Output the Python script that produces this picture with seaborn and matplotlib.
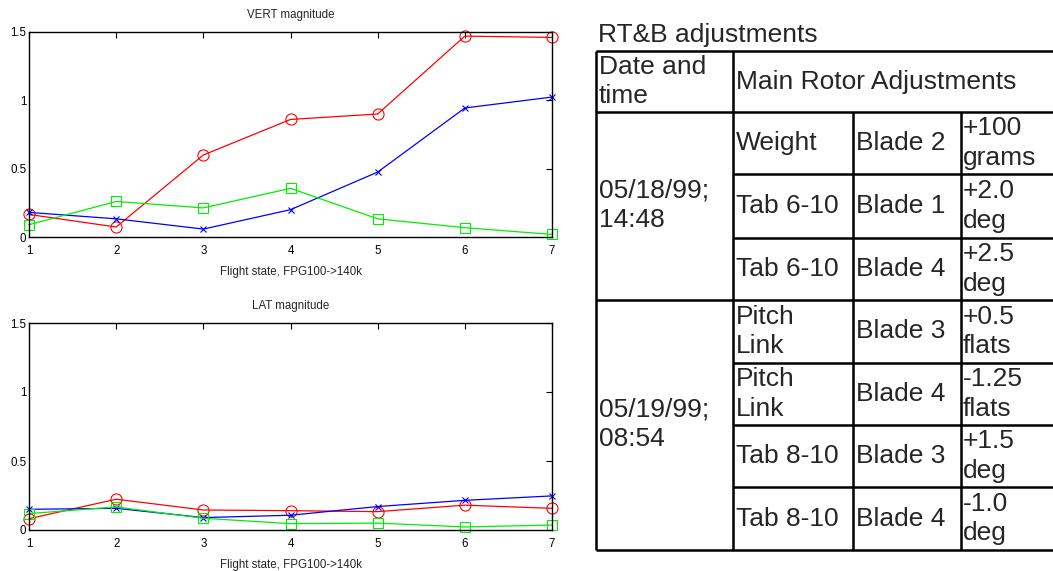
import seaborn as sns
import matplotlib.pyplot as plt

# flight states on x axis
states = [1, 2, 3, 4, 5, 6, 7]

# VERT magnitude
vert_red = [0.165, 0.073, 0.60, 0.86, 0.90, 1.47, 1.46]
vert_blue = [0.18, 0.133, 0.058, 0.20, 0.475, 0.944, 1.024]
vert_green = [0.09, 0.26, 0.213, 0.356, 0.133, 0.068, 0.019]

# LAT magnitude
lat_red = [0.082, 0.223, 0.145, 0.14, 0.133, 0.18, 0.157]
lat_blue = [0.15, 0.157, 0.09, 0.107, 0.17, 0.215, 0.247]
lat_green = [0.119, 0.167, 0.085, 0.046, 0.05, 0.022, 0.036]

# table text
table_title = "RT&B adjustments"
head_date = "Date and\ntime"
head_adj = "Main Rotor Adjustments"
dates = ["05/18/99;\n14:48", "05/19/99;\n08:54"]
group_sizes = [3, 4]
adj_type = ["Weight", "Tab 6-10", "Tab 6-10", "Pitch\nLink", "Pitch\nLink",
            "Tab 8-10", "Tab 8-10"]
blades = ["Blade 2", "Blade 1", "Blade 4", "Blade 3", "Blade 4",
          "Blade 3", "Blade 4"]
amounts = ["+100\ngrams", "+2.0\ndeg", "+2.5\ndeg", "+0.5\nflats",
           "-1.25\nflats", "+1.5\ndeg", "-1.0\ndeg"]

sns.set_style('white')
plt.rcParams['font.family'] = ['Liberation Sans', 'DejaVu Sans']
plt.rcParams['xtick.direction'] = 'in'
plt.rcParams['ytick.direction'] = 'in'

fig = plt.figure(figsize=(10.53, 5.71), dpi=100)
W, H = 1053, 571


def px_axes(x0, y0, x1, y1):
    return fig.add_axes([x0 / W, 1 - y1 / H, (x1 - x0) / W, (y1 - y0) / H])


def draw_panel(ax, red, blue, green, title):
    styles = [(red, '#ff0000', 'o', 8), (blue, '#0000ff', 'x', 4),
              (green, '#00ee00', 's', 7)]
    for vals, c, m, ms in styles:
        sns.lineplot(x=states, y=vals, ax=ax, color=c, marker=m, markersize=ms,
                     mfc='none', mec=c, mew=0.8, lw=0.9, clip_on=False)
    ax.set_xlim(1, 7)
    ax.set_ylim(0, 1.5)
    ax.set_xticks(states)
    ax.set_yticks([0, 0.5, 1, 1.5])
    ax.set_yticklabels(['0', '0.5', '1', '1.5'])
    ax.tick_params(top=True, right=True, length=4, width=0.8, labelsize=8.3,
                   colors='black')
    ax.tick_params(axis='x', pad=6)
    ax.tick_params(axis='y', pad=2)
    for s in ax.spines.values():
        s.set_visible(True)
        s.set_color('black')
        s.set_linewidth(1.0)
    ax.set_title(title, fontsize=8.3, pad=10)
    ax.set_xlabel("Flight state, FPG100->140k", fontsize=8.3, labelpad=6)
    ax.set_ylabel("")


ax1 = px_axes(29, 32, 552, 237)
draw_panel(ax1, vert_red, vert_blue, vert_green, "VERT magnitude")
ax2 = px_axes(29, 323, 552, 530)
draw_panel(ax2, lat_red, lat_blue, lat_green, "LAT magnitude")

# table drawn on a pixel-coordinate overlay
tab = fig.add_axes([0, 0, 1, 1], facecolor='none')
tab.set_xlim(0, W)
tab.set_ylim(H, 0)
tab.axis('off')

col_x = [596, 733, 853, 961, 1070]
row_y = [51, 112, 174, 238, 300, 363, 425, 487, 550]
tfont = dict(fontsize=19, va='center', ha='left', linespacing=1.3)
lw = 1.8

tab.text(598, 35, table_title, **tfont)

# outer and full-width rules
for y in [row_y[0], row_y[1], row_y[4], row_y[8]]:
    tab.hlines(y, col_x[0], col_x[4], color='black', lw=lw)
for y in [row_y[2], row_y[3], row_y[5], row_y[6], row_y[7]]:
    tab.hlines(y, col_x[1], col_x[4], color='black', lw=lw)
tab.vlines([col_x[0], col_x[1]], row_y[0], row_y[8], color='black', lw=lw)
tab.vlines([col_x[2], col_x[3]], row_y[1], row_y[8], color='black', lw=lw)

pad = 3
tab.text(col_x[0] + pad, (row_y[0] + row_y[1]) / 2, head_date, **tfont)
tab.text(col_x[1] + pad, (row_y[0] + row_y[1]) / 2, head_adj, **tfont)

start = 1
for d, n in zip(dates, group_sizes):
    tab.text(col_x[0] + pad, (row_y[start] + row_y[start + n]) / 2 - 1, d, **tfont)
    start += n

for i in range(len(blades)):
    yc = (row_y[i + 1] + row_y[i + 2]) / 2
    tab.text(col_x[1] + pad, yc, adj_type[i], **tfont)
    tab.text(col_x[2] + pad, yc, blades[i], **tfont)
    tab.text(col_x[3] + 2, yc, amounts[i], **tfont)

fig.savefig('out.png', dpi=100)
